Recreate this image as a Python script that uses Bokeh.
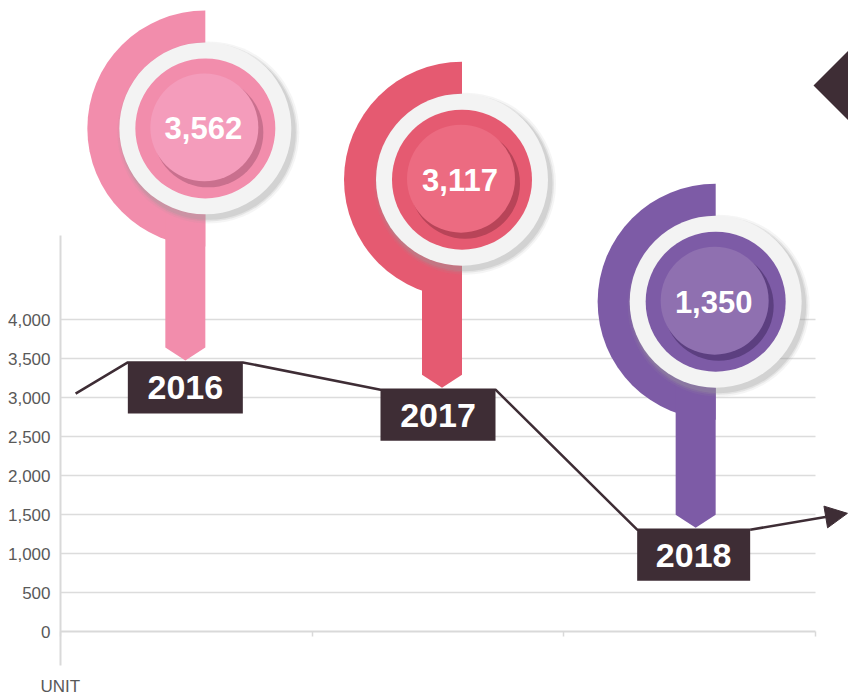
import numpy as np
from bokeh.plotting import figure
from bokeh.models import (Range1d, LinearAxis, FixedTicker, NumeralTickFormatter,
                          Arrow, NormalHead)
from bokeh.core.properties import value
from bokeh.embed import file_html
from bokeh.resources import INLINE

# ---------------- data ----------------
years = ["2016", "2017", "2018"]
values = [3562, 3117, 1350]
value_labels = ["3,562", "3,117", "1,350"]
# level where each year box / trend line sits
anchor_values = [3450, 3100, 1305]
trend_start_x = 0.06
trend_start_value = 3050
trend_end_x = 3.127
trend_end_value = 1515
y_ticks = [0, 500, 1000, 1500, 2000, 2500, 3000, 3500, 4000]
x_ticks = [0, 1, 2, 3]
unit_label = "UNIT"

# ---------------- style / layout ----------------
outer_colors = ["#f28dac", "#e55a71", "#7d5ba6"]
inner_colors = ["#f49cbb", "#ec6b81", "#8f70b0"]
shadow_colors = ["#c9708e", "#b84458", "#5c3f80"]
DARK = "#3e2d35"
GRID = "#dcdcdc"
BOLD_FONT = "'Liberation Sans', Arial, sans-serif"

W, H = 848, 698
LEFT_PX, RIGHT_PX = 60, 815        # x=0 and x=3 on the canvas
ZERO_PX, TOP_TICK_PX = 631, 319    # y=0 and y=4000 on the canvas (from top)
STEM_LEN_PX = [232, 208, 226]      # pin tip -> bubble centre
PIN_NUDGE_PX = [-1, 4, 6]
BOX_NUDGE_PX = [-1, 0, 4]
BOX_W_PX = [115, 115, 113]
BOX_H_PX = 51
STEM_HALF = 20

n_cat = len(years)
sx = (RIGHT_PX - LEFT_PX) / n_cat
sy = (ZERO_PX - TOP_TICK_PX) / max(y_ticks)


def dxd(px):
    return px / sx


def dyd(px):
    return px / sy


p = figure(width=W, height=H, output_backend="svg", toolbar_location=None,
           x_axis_type=None, y_axis_type=None,
           x_range=Range1d(-LEFT_PX / sx, (W - LEFT_PX) / sx),
           y_range=Range1d(-(H - ZERO_PX) / sy, ZERO_PX / sy),
           min_border=0, background_fill_color="white", border_fill_color="white")
p.outline_line_color = None

# grid lines
grid_vals = [t for t in y_ticks if t != 0]
p.segment(x0=[x_ticks[0]] * len(grid_vals), x1=[x_ticks[-1]] * len(grid_vals),
          y0=grid_vals, y1=grid_vals, line_color=GRID, line_width=1.5)

# axes
yaxis = LinearAxis(fixed_location=0, bounds=(-dyd(34), dyd(396)),
                   ticker=FixedTicker(ticks=y_ticks),
                   formatter=NumeralTickFormatter(format="0,0"))
yaxis.major_tick_line_color = None
yaxis.minor_tick_line_color = None
yaxis.major_tick_out = 0
yaxis.major_tick_in = 0
yaxis.axis_line_color = "#d9d9d9"
yaxis.axis_line_width = 2
yaxis.major_label_text_font = "Liberation Sans"
yaxis.major_label_text_font_size = "17px"
yaxis.major_label_text_color = "#595959"
yaxis.major_label_standoff = 10
p.add_layout(yaxis, "left")

xaxis = LinearAxis(fixed_location=0, bounds=(x_ticks[0], x_ticks[-1]),
                   ticker=FixedTicker(ticks=x_ticks))
xaxis.major_label_overrides = {t: "" for t in x_ticks}
xaxis.major_label_text_font_size = "0px"
xaxis.minor_tick_line_color = None
xaxis.major_tick_in = 0
xaxis.major_tick_out = 5
xaxis.major_tick_line_color = "#d9d9d9"
xaxis.major_tick_line_width = 1.5
xaxis.axis_line_color = "#d9d9d9"
xaxis.axis_line_width = 2
p.add_layout(xaxis, "below")

p.text(x=[0], y=[0], text=[unit_label], x_offset=-20, y_offset=55,
       text_align="left", text_baseline="middle",
       text_font=value("Liberation Sans"), text_font_size="17px", text_color="#595959")

cat_x = [i + 0.5 for i in range(n_cat)]
box_x = [c + dxd(n) for c, n in zip(cat_x, BOX_NUDGE_PX)]

# trend line (passes behind the year boxes)
lx = [trend_start_x]
ly = [trend_start_value]
for bx, bw, a in zip(box_x, BOX_W_PX, anchor_values):
    lx += [bx - dxd(bw / 2), bx + dxd(bw / 2)]
    ly += [a, a]
p.line(lx, ly, line_color=DARK, line_width=2.5)
p.add_layout(Arrow(end=NormalHead(size=22, fill_color=DARK, line_color=DARK),
                   x_start=lx[-1], y_start=ly[-1], x_end=trend_end_x, y_end=trend_end_value,
                   line_color=DARK, line_width=2.5))

# pins
for i, (c, a) in enumerate(zip(cat_x, anchor_values)):
    tx = c + dxd(PIN_NUDGE_PX[i])
    ty = a + dyd(2)
    cx = tx + dxd(STEM_HALF)
    cy = ty + dyd(STEM_LEN_PX[i])
    p.wedge(x=[cx], y=[cy], radius=118, radius_units="screen",
            start_angle=np.pi / 2, end_angle=3 * np.pi / 2,
            fill_color=outer_colors[i], line_color=None)
    p.patch([tx - dxd(STEM_HALF), tx + dxd(STEM_HALF), tx + dxd(STEM_HALF), tx, tx - dxd(STEM_HALF)],
            [cy, cy, ty + dyd(13), ty, ty + dyd(13)],
            fill_color=outer_colors[i], line_color=None)
    # white ring with soft shadow
    for r, al in [(91, 0.10), (89, 0.18), (87.5, 0.25)]:
        p.circle(x=[cx + dxd(3)], y=[cy - dyd(4)], radius=r, radius_units="screen",
                 fill_color="#9a9a9a", fill_alpha=al, line_color=None)
    p.circle(x=[cx], y=[cy], radius=86, radius_units="screen",
             fill_color="#f3f3f3", line_color=None)
    p.circle(x=[cx], y=[cy], radius=70, radius_units="screen",
             fill_color=outer_colors[i], line_color=None)
    p.circle(x=[cx + dxd(3)], y=[cy - dyd(4)], radius=55, radius_units="screen",
             fill_color=shadow_colors[i], line_color=None)
    p.circle(x=[cx - dxd(1)], y=[cy + dyd(1)], radius=54, radius_units="screen",
             fill_color=inner_colors[i], line_color=None)
    p.text(x=[cx - dxd(2)], y=[cy], text=[value_labels[i]],
           text_align="center", text_baseline="middle",
           text_font=value(BOLD_FONT), text_font_style="bold",
           text_font_size="31px", text_color="white")

# year boxes
box_y = [a - dyd(BOX_H_PX / 2) for a in anchor_values]
p.rect(x=box_x, y=box_y, width=BOX_W_PX, height=BOX_H_PX, width_units="screen",
       height_units="screen", fill_color=DARK, line_color=None)
p.text(x=box_x, y=box_y, text=years, text_align="center", text_baseline="middle",
       text_font=value(BOLD_FONT), text_font_style="bold", text_font_size="34px",
       text_color="white")

# decorative diamond at the right edge
dcx = p.x_range.end + dxd(7)
dcy = (ZERO_PX - 85) / sy
p.patch([dcx - dxd(42), dcx, dcx + dxd(42), dcx],
        [dcy, dcy + dyd(42), dcy, dcy - dyd(42)],
        fill_color=DARK, line_color=None)

open("out.html", "w").write(file_html(p, INLINE))
